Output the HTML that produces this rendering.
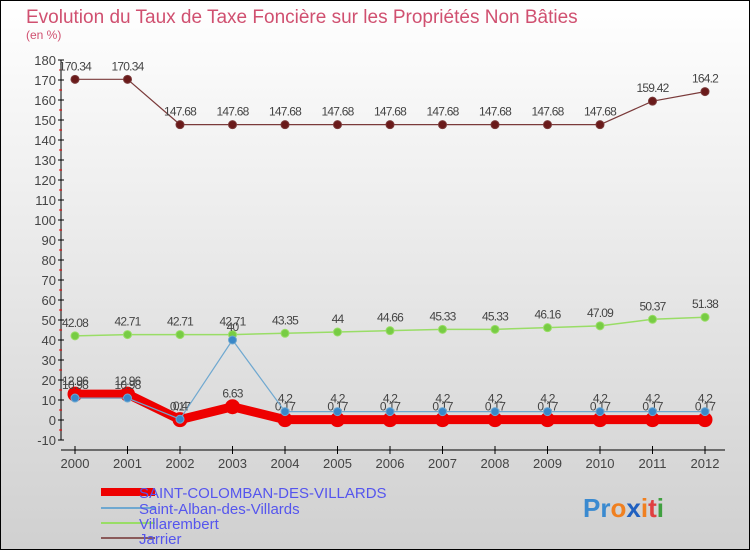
<!DOCTYPE html>
<html><head><meta charset="utf-8"><style>
body{margin:0;width:750px;height:550px;overflow:hidden}
svg{display:block;font-family:"Liberation Sans",sans-serif}
</style></head><body>
<svg id="chart" width="750" height="550" viewBox="0 0 750 550">
<defs><linearGradient id="bg" x1="0" y1="0" x2="0" y2="1"><stop offset="0" stop-color="#ffffff"/><stop offset="1" stop-color="#d0d0d0"/></linearGradient></defs>
<rect x="0.5" y="0.5" width="749" height="549" fill="url(#bg)" stroke="#000"/>
<text x="26" y="23" font-size="19" fill="#d05070">Evolution du Taux de Taxe Foncière sur les Propriétés Non Bâties</text>
<text x="26" y="39" font-size="12" fill="#d05070">(en %)</text>
<g id="axes"></g><g id="series"></g>
<g>
<rect x="101" y="488" width="54" height="8" fill="#e00"/>
<line x1="101" y1="508" x2="155" y2="508" stroke="#6fa8d0" stroke-width="2"/>
<line x1="101" y1="523" x2="155" y2="523" stroke="#99dd66" stroke-width="2"/>
<line x1="101" y1="538" x2="155" y2="538" stroke="#8a5a5a" stroke-width="2"/>
<text x="139" y="498" font-size="15" fill="#5555ee" transform="translate(0,0)" dx="-(0)"><tspan x="139">SAINT-COLOMBAN-DES-VILLARDS</tspan></text>
<text x="139" y="514" font-size="15" fill="#5555ee">Saint-Alban-des-Villards</text>
<text x="139" y="529" font-size="15" fill="#5555ee">Villarembert</text>
<text x="139" y="544" font-size="15" fill="#5555ee">Jarrier</text>
</g>
<text x="583" y="517" font-size="26" font-weight="bold"><tspan fill="#3a8ad0">Pr</tspan><tspan fill="#f08020">o</tspan><tspan fill="#2060c0">x</tspan><tspan fill="#f08020">i</tspan><tspan fill="#e04040">t</tspan><tspan fill="#40a040">i</tspan></text>
</svg>
<script>
const years=["2000","2001","2002","2003","2004","2005","2006","2007","2008","2009","2010","2011","2012"];
const yTicks=[-10,0,10,20,30,40,50,60,70,80,90,100,110,120,130,140,150,160,170,180];
const jarrier=[170.34,170.34,147.68,147.68,147.68,147.68,147.68,147.68,147.68,147.68,147.68,159.42,164.2];
const villarembert=[42.08,42.71,42.71,42.71,43.35,44,44.66,45.33,45.33,46.16,47.09,50.37,51.38];
const saintAlban=[10.98,10.98,0.4,40,4.2,4.2,4.2,4.2,4.2,4.2,4.2,4.2,4.2];
const saintColomban=[12.96,12.96,0.17,6.63,0.17,0.17,0.17,0.17,0.17,0.17,0.17,0.17,0.17];
const NS="http://www.w3.org/2000/svg";
const X=i=>75+i*52.5, Y=v=>420-v*2;
function mk(t,a,p){const e=document.createElementNS(NS,t);for(const k in a)e.setAttribute(k,a[k]);p.appendChild(e);return e;}
const ax=document.getElementById('axes'), sg=document.getElementById('series');
let l=mk('line',{x1:61,y1:60,x2:61,y2:440,stroke:'#000'},ax);


l=mk('line',{x1:61,y1:450,x2:725,y2:450,stroke:'#000'},ax);


yTicks.forEach((v,i)=>{
 mk('line',{x1:58,y1:Y(v),x2:64,y2:Y(v),stroke:'#000'},ax);
 if(i<yTicks.length-1) mk('line',{x1:59,y1:Y(v)-10,x2:62,y2:Y(v)-10,stroke:'#e00'},ax);
 const t=mk('text',{x:56,y:Y(v)+5,'font-size':13,fill:'#444','text-anchor':'end'},ax);
 
 
 t.textContent=v;
});
years.forEach((y,i)=>{
 mk('line',{x1:X(i),y1:446,x2:X(i),y2:454,stroke:'#000'},ax);
 const t=mk('text',{x:X(i),y:468,'font-size':13,fill:'#444','text-anchor':'middle'},ax);
 
 
 t.textContent=y;
});
function series(data,name,color,w,r,dot){
 const g=mk('g',{},sg);
 
 
 const p=mk('polyline',{points:data.map((v,i)=>X(i)+','+Y(v)).join(' '),fill:'none',stroke:color,'stroke-width':w,'stroke-linejoin':'round'},g);
 
 
 data.forEach((v,i)=>{
  const c=mk('circle',{cx:X(i),cy:Y(v),r:r,fill:dot,stroke:color,'stroke-width':1},g);
  
  
  const t=mk('text',{x:X(i),y:Y(v)-9,'font-size':12,fill:'#444','text-anchor':'middle','letter-spacing':'-0.8'},g);
  
  
  t.textContent=String(v);
 });
}
series(jarrier,'jarrier','#7a3a3a',1.2,4,'#6a1a1a');
series(villarembert,'villarembert','#99dd66',1.5,4,'#77cc44');
series(saintColomban,'saint-colomban','#ee0000',9,7,'#ee0000');
series(saintAlban,'saint-alban','#6fa8d0',1.2,4,'#3a88c8');
</script>
</body></html>
